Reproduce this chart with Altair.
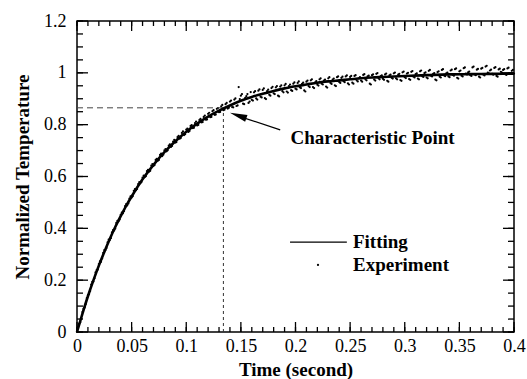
import altair as alt
import pandas as pd

# ---------------- data ----------------
fit_t = [0, 0.005, 0.01, 0.015, 0.02, 0.025, 0.03, 0.035, 0.04, 0.045, 0.05,
         0.06, 0.07, 0.08, 0.09, 0.10, 0.11, 0.12, 0.13, 0.14, 0.15, 0.16, 0.17,
         0.18, 0.19, 0.20, 0.21, 0.22, 0.23, 0.24, 0.25, 0.26, 0.27, 0.28, 0.29,
         0.30, 0.32, 0.34, 0.36, 0.38, 0.40]
fit_y = [0, 0.071, 0.138, 0.199, 0.256, 0.309, 0.359, 0.405, 0.447, 0.487, 0.523,
         0.589, 0.645, 0.694, 0.736, 0.773, 0.804, 0.831, 0.854, 0.874, 0.892,
         0.907, 0.919, 0.930, 0.940, 0.948, 0.955, 0.962, 0.967, 0.971, 0.975,
         0.979, 0.982, 0.984, 0.986, 0.988, 0.991, 0.994, 0.995, 0.996, 0.997]

# experiment samples, first pass (t = 0, 0.002, ..., 0.4)
exp_t1 = [round(0.002 * i, 3) for i in range(201)]
exp_y1 = [
    0.000, 0.032, 0.052, 0.089, 0.108,
    0.142, 0.158, 0.193, 0.207, 0.239,
    0.262, 0.271, 0.305, 0.316, 0.346,
    0.355, 0.384, 0.392, 0.421, 0.427,
    0.452, 0.458, 0.486, 0.489, 0.515,
    0.519, 0.545, 0.547, 0.571, 0.574,
    0.596, 0.598, 0.621, 0.619, 0.642,
    0.641, 0.664, 0.661, 0.683, 0.679,
    0.701, 0.697, 0.719, 0.714, 0.735,
    0.731, 0.752, 0.746, 0.768, 0.760,
    0.781, 0.772, 0.795, 0.787, 0.806,
    0.797, 0.818, 0.809, 0.830, 0.819,
    0.842, 0.829, 0.852, 0.838, 0.861,
    0.848, 0.871, 0.856, 0.879, 0.862,
    0.889, 0.868, 0.897, 0.872, 0.945,
    0.912, 0.881, 0.903, 0.918, 0.889,
    0.896, 0.925, 0.901, 0.931, 0.908,
    0.934, 0.902, 0.929, 0.915, 0.941,
    0.921, 0.944, 0.912, 0.947, 0.929,
    0.952, 0.928, 0.949, 0.933, 0.958,
    0.939, 0.961, 0.944, 0.957, 0.932,
    0.966, 0.949, 0.971, 0.945, 0.963,
    0.954, 0.975, 0.958, 0.970, 0.947,
    0.979, 0.961, 0.974, 0.952, 0.983,
    0.965, 0.981, 0.968, 0.986, 0.959,
    0.984, 0.962, 0.988, 0.971, 0.979,
    0.970, 0.992, 0.975, 0.986, 0.958,
    0.991, 0.974, 0.996, 0.979, 0.987,
    0.977, 0.994, 0.969, 0.990, 0.981,
    0.998, 0.979, 0.993, 0.972, 1.002,
    0.983, 0.997, 0.976, 1.004, 0.985,
    0.995, 0.978, 1.006, 0.987, 0.999,
    0.982, 1.008, 0.989, 0.996, 0.974,
    1.003, 0.985, 1.011, 0.990, 0.998,
    0.986, 1.009, 0.992, 1.014, 0.981,
    1.006, 0.989, 1.018, 0.997, 1.002,
    0.991, 1.021, 0.994, 1.012, 0.985,
    1.016, 0.993, 1.024, 1.001, 1.009,
    0.996, 1.019, 0.988, 1.013, 1.004,
    1.011, 0.995, 1.017, 0.999, 1.008,
    0.997,
]

# experiment samples, second pass (t = 0.001, 0.003, ..., 0.399)
exp_t2 = [round(0.001 + 0.002 * i, 3) for i in range(200)]
exp_y2 = [
    0.019, 0.038, 0.077, 0.095, 0.131,
    0.146, 0.183, 0.195, 0.230, 0.241,
    0.273, 0.284, 0.316, 0.324, 0.356,
    0.362, 0.393, 0.399, 0.429, 0.434,
    0.461, 0.466, 0.493, 0.496, 0.523,
    0.524, 0.551, 0.552, 0.578, 0.579,
    0.603, 0.601, 0.626, 0.622, 0.648,
    0.644, 0.668, 0.664, 0.688, 0.684,
    0.706, 0.701, 0.724, 0.718, 0.741,
    0.733, 0.757, 0.749, 0.774, 0.763,
    0.785, 0.776, 0.798, 0.788, 0.812,
    0.799, 0.822, 0.810, 0.835, 0.820,
    0.846, 0.830, 0.856, 0.839, 0.864,
    0.849, 0.876, 0.858, 0.884, 0.865,
    0.893, 0.867, 0.901, 0.874, 0.899,
    0.918, 0.879, 0.910, 0.884, 0.926,
    0.893, 0.929, 0.897, 0.936, 0.905,
    0.940, 0.899, 0.935, 0.912, 0.946,
    0.918, 0.949, 0.909, 0.952, 0.925,
    0.957, 0.924, 0.955, 0.930, 0.963,
    0.936, 0.967, 0.941, 0.962, 0.928,
    0.970, 0.945, 0.975, 0.941, 0.968,
    0.951, 0.979, 0.955, 0.974, 0.943,
    0.983, 0.957, 0.978, 0.949, 0.986,
    0.961, 0.985, 0.964, 0.990, 0.955,
    0.988, 0.958, 0.991, 0.967, 0.983,
    0.966, 0.995, 0.971, 0.989, 0.955,
    0.994, 0.970, 0.999, 0.975, 0.990,
    0.973, 0.997, 0.966, 0.993, 0.978,
    1.001, 0.975, 0.996, 0.969, 1.005,
    0.980, 1.000, 0.973, 1.007, 0.982,
    0.998, 0.975, 1.009, 0.984, 1.002,
    0.979, 1.011, 0.986, 0.999, 0.971,
    1.006, 0.982, 1.014, 0.987, 1.001,
    0.983, 1.012, 0.989, 1.017, 0.978,
    1.009, 0.986, 1.021, 0.994, 1.005,
    0.988, 1.024, 0.991, 1.015, 0.982,
    1.019, 0.990, 1.027, 0.998, 1.012,
    0.993, 1.022, 0.985, 1.016, 1.001,
    1.014, 0.992, 1.020, 0.996, 1.011,
]

char_t = 0.134
char_y = 0.865

x_major = [0, 0.05, 0.1, 0.15, 0.2, 0.25, 0.3, 0.35, 0.4]
x_minor = [round(0.01 * i, 2) for i in range(41)]
y_major = [0, 0.2, 0.4, 0.6, 0.8, 1.0, 1.2]
y_minor = [round(0.05 * i, 2) for i in range(25)]

# ---------------- chart ----------------
W, H = 437, 311
FONT = "Liberation Serif"
xs = alt.Scale(domain=[0, 0.4], nice=False, zero=False)
ys = alt.Scale(domain=[0, 1.2], nice=False, zero=False)

X_AX = alt.Axis(values=x_major, format="~g", title="Time (second)", domain=False,
                ticks=False, grid=False, labelFont=FONT, labelFontSize=18,
                labelColor="black", labelPadding=5, labelFlush=False,
                titleFont=FONT, titleFontSize=19, titleFontWeight="bold",
                titleColor="black", titlePadding=5)
Y_AX = alt.Axis(values=y_major, format="~g", title="Normalized Temperature",
                domain=False, ticks=False, grid=False, labelFont=FONT,
                labelFontSize=18, labelColor="black", labelPadding=11,
                labelFlush=False, titleFont=FONT, titleFontSize=19,
                titleFontWeight="bold", titleColor="black", titlePadding=11)


def X(f):
    return alt.X(f, type="quantitative", scale=xs, axis=X_AX)


def Y(f):
    return alt.Y(f, type="quantitative", scale=ys, axis=Y_AX)


exp_df = pd.DataFrame({"t": exp_t1 + exp_t2, "y": exp_y1 + exp_y2})
fit_df = pd.DataFrame({"t": fit_t, "y": fit_y})

points = alt.Chart(exp_df).mark_circle(size=5, color="black", opacity=1).encode(
    x=X("t"), y=Y("y"))

line = alt.Chart(fit_df).mark_line(color="black", strokeWidth=2.6,
                                   interpolate="monotone").encode(
    x=X("t"), y=Y("y"))

cp_df = pd.DataFrame({"t0": [0.0], "t": [char_t], "y0": [0.0], "y": [char_y]})
hdash = alt.Chart(cp_df).mark_rule(color="#444444", strokeWidth=1,
                                   strokeDash=[6, 4]).encode(
    x=X("t0"), x2="t:Q", y=Y("y"))
vdash = alt.Chart(cp_df).mark_rule(color="#333333", strokeWidth=1,
                                   strokeDash=[3, 3]).encode(
    x=X("t"), y=Y("y0"), y2="y:Q")

# arrow annotation
arrow_df = pd.DataFrame({"t": [0.186], "y": [0.780], "t2": [0.147], "y2": [0.834]})
arrow_line = alt.Chart(arrow_df).mark_rule(color="black", strokeWidth=1.2).encode(
    x=X("t"), x2="t2:Q", y=Y("y"), y2="y2:Q")
tip_df = pd.DataFrame({"t": [0.140], "y": [0.846]})
arrow_head = alt.Chart(tip_df).mark_point(
    shape="M0,0L0.42,2L-0.42,2Z", size=300, filled=True, color="black",
    opacity=1, angle=289, strokeWidth=0,
).encode(x=X("t"), y=Y("y"))

texts_df = pd.DataFrame({
    "t": [0.1955, 0.2526, 0.2526],
    "y": [0.748, 0.347, 0.259],
    "label": ["Characteristic Point", "Fitting", "Experiment"],
})
texts = alt.Chart(texts_df).mark_text(
    font=FONT, fontSize=19, fontWeight="bold", align="left", baseline="middle",
    color="black",
).encode(x=X("t"), y=Y("y"), text="label:N")

leg_line_df = pd.DataFrame({"t": [0.195], "t2": [0.247], "y": [0.347]})
leg_line = alt.Chart(leg_line_df).mark_rule(color="black", strokeWidth=1.3).encode(
    x=X("t"), x2="t2:Q", y=Y("y"))
leg_dot_df = pd.DataFrame({"t": [0.2206], "y": [0.259]})
leg_dot = alt.Chart(leg_dot_df).mark_circle(size=5, color="black", opacity=1).encode(
    x=X("t"), y=Y("y"))


# inward ticks on all four sides
def xticks(vals, length, top):
    df = pd.DataFrame({"t": vals})
    y1 = 0 if top else H
    y2 = length if top else H - length
    return alt.Chart(df).mark_rule(color="black", strokeWidth=1.3).encode(
        x=X("t"), y=alt.value(y1), y2=alt.value(y2))


def yticks(vals, length, right):
    df = pd.DataFrame({"y": vals})
    x1 = W if right else 0
    x2 = W - length if right else length
    return alt.Chart(df).mark_rule(color="black", strokeWidth=1.3).encode(
        y=Y("y"), x=alt.value(x1), x2=alt.value(x2))


tick_layers = [
    xticks(x_minor, 5, False), xticks(x_major, 10, False),
    xticks(x_minor, 5, True), xticks(x_major, 10, True),
    yticks(y_minor, 6, False), yticks(y_major, 11, False),
    yticks(y_minor, 6, True), yticks(y_major, 11, True),
]

chart = alt.layer(
    points, hdash, vdash, line, arrow_line, arrow_head, texts, leg_line, leg_dot,
    *tick_layers,
).properties(
    width=W, height=H,
    padding={"left": 77, "top": 21, "right": 13, "bottom": 47},
    autosize=alt.AutoSizeParams(type="none"),
    background="white",
).configure(
    font=FONT,
).configure_view(
    stroke="black", strokeWidth=1.5,
)

chart.save("out.html", embed_options={"renderer": "svg", "actions": False})
